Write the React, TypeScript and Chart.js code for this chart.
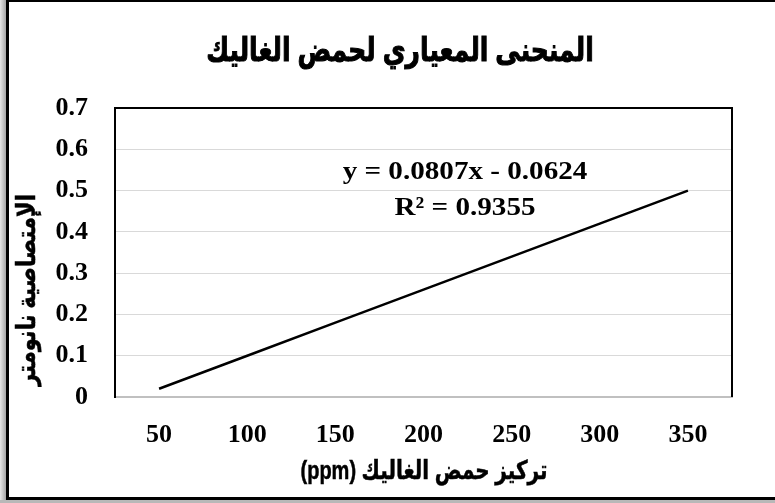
import React, { useEffect, useRef } from "react";
import { Chart, registerables } from "chart.js";

Chart.register(...registerables);

const concentrations = ["50", "100", "150", "200", "250", "300", "350"];
const absorbance = [0.02, 0.1, 0.18, 0.26, 0.34, 0.42, 0.5];
const yMin = 0;
const yMax = 0.7;
const yStep = 0.1;
const chartTitle = "المنحنى المعياري لحمض الغاليك";
const xTitle = "تركيز حمض الغاليك (ppm)";
const yTitle = "الإمتصاصية نانومتر";
const equationLines = ["y = 0.0807x - 0.0624", "R² = 0.9355"];

const W = 775;
const H = 503;
const serif = '"Liberation Serif", "Times New Roman", serif';
const arabic = 'Arial, "DejaVu Sans", sans-serif';

function stretchedText(ctx: any, text: string, x: number, y: number, sx: number, sy: number, rot = 0) {
  ctx.save();
  ctx.translate(x, y);
  if (rot) ctx.rotate(rot);
  ctx.scale(sx, sy);
  ctx.fillText(text, 0, 0);
  ctx.strokeText(text, 0, 0);
  ctx.restore();
}

const framePlugin = {
  id: "frame",
  beforeDraw(chart: any) {
    const ctx = chart.ctx;
    ctx.save();
    ctx.fillStyle = "#ffffff";
    ctx.fillRect(0, 0, W, H);
    const g = ctx.createLinearGradient(0, 0, 7, 0);
    g.addColorStop(0, "#e6e6e6");
    g.addColorStop(1, "#9a9a9a");
    ctx.fillStyle = g;
    ctx.fillRect(0, 0, 7, H);
    ctx.fillStyle = "#b8b8b8";
    ctx.fillRect(0, 500, W, 3);
    ctx.fillStyle = "#000000";
    ctx.fillRect(6, 0, 3, 500);
    ctx.fillRect(6, 0, W - 6, 2);
    ctx.fillRect(6, 497, W - 6, 3);
    ctx.restore();
  },
  beforeDatasetsDraw(chart: any) {
    const ctx = chart.ctx;
    const a = chart.chartArea;
    ctx.save();
    ctx.strokeStyle = "#000000";
    ctx.lineWidth = 2;
    ctx.beginPath();
    ctx.moveTo(a.left, a.bottom);
    ctx.lineTo(a.left, a.top);
    ctx.lineTo(a.right, a.top);
    ctx.lineTo(a.right, a.bottom);
    ctx.stroke();
    ctx.restore();
  },
  afterDraw(chart: any) {
    const ctx = chart.ctx;
    const a = chart.chartArea;
    ctx.save();
    ctx.fillStyle = "#000000";
    ctx.strokeStyle = "#000000";
    ctx.textAlign = "center";
    ctx.textBaseline = "middle";
    ctx.direction = "rtl";
    // title
    ctx.font = `bold 25px ${arabic}`;
    ctx.lineWidth = 0.8;
    stretchedText(ctx, chartTitle, 400, 52, 1, 1.3);
    // x title
    ctx.font = `bold 20px ${arabic}`;
    ctx.lineWidth = 0.4;
    stretchedText(ctx, xTitle, 424, 472, 1, 1.3);
    // y title
    ctx.font = `bold 21px ${arabic}`;
    stretchedText(ctx, yTitle, 28, 290, 1, 1.25, -Math.PI / 2);
    // equation
    ctx.direction = "ltr";
    ctx.font = `bold 26px ${serif}`;
    ctx.lineWidth = 0;
    for (let i = 0; i < equationLines.length; i++) {
      ctx.save();
      ctx.translate(a.left + 350, 172 + i * 36);
      ctx.scale(1.12, 1);
      ctx.fillText(equationLines[i], 0, 0);
      ctx.restore();
    }
    ctx.restore();
  },
};

export default function App() {
  const ref = useRef<HTMLCanvasElement | null>(null);
  useEffect(() => {
    if (!ref.current) return;
    const chart = new Chart(ref.current, {
      type: "line",
      data: {
        labels: concentrations,
        datasets: [
          {
            data: absorbance,
            borderColor: "#000000",
            borderWidth: 2.5,
            pointRadius: 0,
            fill: false,
            tension: 0,
          },
        ],
      },
      options: {
        responsive: false,
        animation: false,
        devicePixelRatio: 1,
        layout: { padding: { top: 108, right: 43, left: 0, bottom: 0 } },
        plugins: {
          legend: { display: false },
          tooltip: { enabled: false },
          title: { display: false },
        },
        scales: {
          x: {
            type: "category",
            offset: true,
            grid: { display: false, drawTicks: false },
            border: { display: true, color: "#c0c0c0", width: 2 },
            ticks: {
              color: "#000000",
              padding: 23,
              font: { family: serif, size: 26, weight: "bold" },
              maxRotation: 0,
              autoSkip: false,
            },
            afterFit(scale: any) {
              scale.height = 106;
            },
          },
          y: {
            min: yMin,
            max: yMax,
            grid: { color: "#d9d9d9", lineWidth: 1, drawTicks: false },
            border: { display: true, color: "#000000", width: 2 },
            ticks: {
              stepSize: yStep,
              color: "#000000",
              padding: 27,
              font: { family: serif, size: 26, weight: "bold" },
              callback: (v: any) => (Number(v) === 0 ? "0" : Number(v).toFixed(1)),
            },
            afterFit(scale: any) {
              scale.width = 115;
            },
          },
        },
      },
      plugins: [framePlugin],
    });
    return () => chart.destroy();
  }, []);
  return (
    <div style={{ position: "absolute", left: 0, top: 0, width: W, height: H }}>
      <canvas ref={ref} width={W} height={H} style={{ display: "block" }} />
    </div>
  );
}
